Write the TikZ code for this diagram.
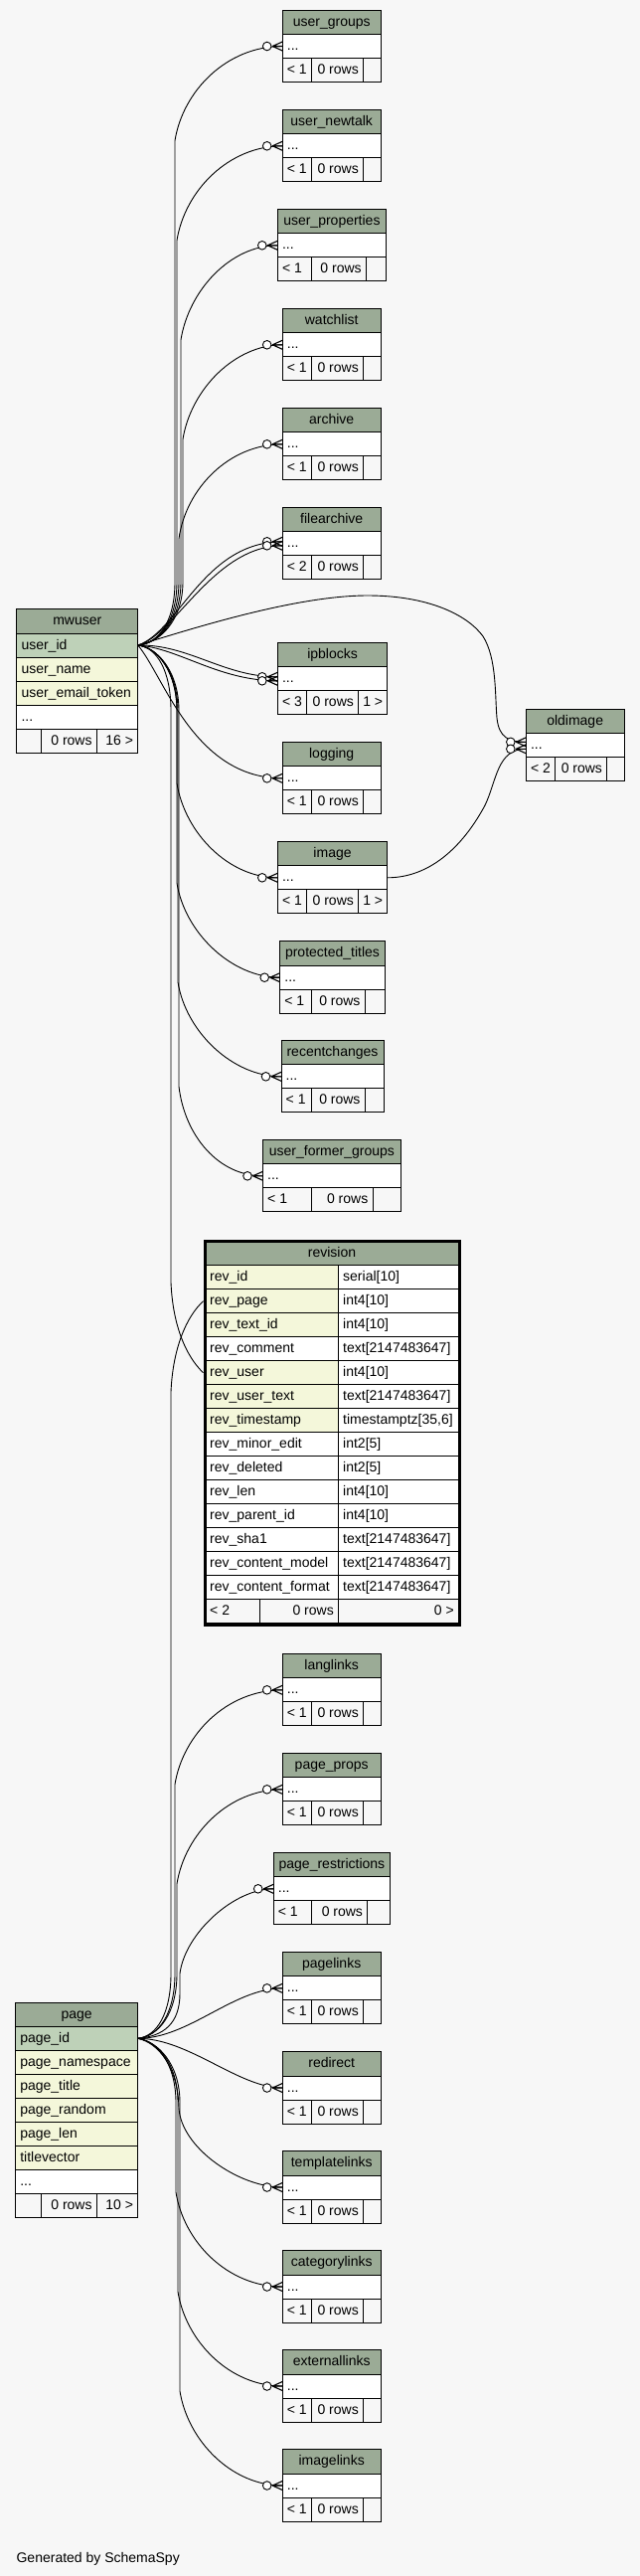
\documentclass[tikz,border=0pt]{standalone}
\usepackage{fontspec}
\setmainfont{Liberation Sans}
\usetikzlibrary{decorations.markings}
\definecolor{bgc}{HTML}{F7F7F7}
\definecolor{hdrc}{HTML}{9BAB96}
\definecolor{pkc}{HTML}{BED1B8}
\definecolor{idxc}{HTML}{F4F7DA}
\newcommand{\cbox}[6]{%
  \pgfmathsetmacro{\tbW}{(#4)-(#2)}%
  \pgfmathsetmacro{\tbH}{(#5)-(#3)}%
  \node[cellbase,#6,minimum width=\tbW pt,minimum height=\tbH pt,anchor=north west] (#1) at (#2,#3) {};%
}
\newcommand{\ltext}[2]{\node[txt,anchor=west] (#1-t) at ([xshift=4.5pt]#1.west) {#2};}
\newcommand{\rtext}[2]{\if\relax\detokenize{#2}\relax\else\node[txt,anchor=east] (#1-t) at ([xshift=-4.5pt]#1.east) {#2};\fi}
\newcommand{\ctext}[2]{\node[txt] (#1-t) at (#1.center) {#2};}
\newcommand{\smalltab}[9]{%
  \cbox{#1-h}{#2}{#4}{#3}{#4+24.5}{hdr}\ctext{#1-h}{#7}
  \cbox{#1-r}{#2}{#4+24.5}{#3}{#4+48.5}{wht}\ltext{#1-r}{...}
  \cbox{#1-a}{#2}{#4+48.5}{#5}{#4+72.5}{ftc}\ltext{#1-a}{#8}
  \cbox{#1-b}{#5}{#4+48.5}{#6}{#4+72.5}{ftc}\rtext{#1-b}{0 rows}
  \cbox{#1-c}{#6}{#4+48.5}{#3}{#4+72.5}{ftc}\rtext{#1-c}{#9}
}
\newcommand{\rvrow}[5]{%
  \cbox{rv-#1}{206.5}{#2}{340.5}{#2+24}{#3}\ltext{rv-#1}{#4}
  \cbox{rv-#1-ty}{340.5}{#2}{461.5}{#2+24}{wht}\ltext{rv-#1-ty}{#5}
}
\begin{document}
\begin{tikzpicture}[x=1pt,y=-1pt,
  cellbase/.style={draw=black,line width=0.9pt,inner sep=0pt,outer sep=0pt},
  hdr/.style={fill=hdrc}, pk/.style={fill=pkc}, idx/.style={fill=idxc},
  wht/.style={fill=white}, ftc/.style={fill=bgc},
  txt/.style={font=\fontsize{14}{16}\selectfont, inner sep=0pt, text height=11pt, text depth=3pt},
  fk/.style={line width=0.9pt, postaction={decorate, decoration={markings,
     mark=at position 1 with {\draw[line width=1.1pt] (-10pt,0pt)--(0pt,4.5pt) (-10pt,0pt)--(0pt,-4.5pt) (-10pt,0pt)--(0pt,0pt);
       \draw[line width=0.9pt,fill=white] (-15.5pt,0pt) circle (4.3pt);}}}}
]
\fill[bgc] (0,0) rectangle (644,2591);
\useasboundingbox (0,0) rectangle (644,2591);

% small tables
\smalltab{ug}{284.2}{383.2}{10}{313.4}{365.5}{user\_groups}{< 1}{}
\smalltab{un}{284.2}{383.2}{110.3}{313.4}{365.5}{user\_newtalk}{< 1}{}
\smalltab{up}{279.3}{388.5}{210.3}{313.8}{368.4}{user\_properties}{< 1}{}
\smalltab{wl}{284.2}{383.2}{310.3}{313.4}{365.5}{watchlist}{< 1}{}
\smalltab{ar}{284.2}{383.2}{410.3}{313.4}{365.5}{archive}{< 1}{}
\smalltab{fa}{284.2}{383.2}{510.3}{313.4}{365.5}{filearchive}{< 2}{}
\smalltab{ib}{279.3}{389.8}{646.3}{308.4}{360.6}{ipblocks}{< 3}{1 >}
\smalltab{oi}{529.3}{628}{713.3}{558.5}{610.7}{oldimage}{< 2}{}
\smalltab{lg}{284.2}{383.2}{746.3}{313.4}{365.5}{logging}{< 1}{}
\smalltab{im}{279.3}{389.8}{846.3}{308.4}{360.6}{image}{< 1}{1 >}
\smalltab{pt}{281.7}{387.3}{946.7}{313.8}{367.2}{protected\_titles}{< 1}{}
\smalltab{rc}{283}{386}{1046.3}{313.8}{367.2}{recentchanges}{< 1}{}
\smalltab{uf}{264.5}{403.3}{1146.3}{313.8}{375}{user\_former\_groups}{< 1}{}
\smalltab{ll}{284.2}{383.2}{1663.3}{313.4}{365.5}{langlinks}{< 1}{}
\smalltab{pp}{284.2}{383.2}{1763.3}{313.4}{365.5}{page\_props}{< 1}{}
\smalltab{pr}{275.2}{392.7}{1863.3}{313.8}{369.7}{page\_restrictions}{< 1}{}
\smalltab{pl}{284.2}{383.2}{1963.3}{313.4}{365.5}{pagelinks}{< 1}{}
\smalltab{rd}{284.2}{383.2}{2063.5}{313.4}{365.5}{redirect}{< 1}{}
\smalltab{tl}{284.2}{383.2}{2163.5}{313.4}{365.5}{templatelinks}{< 1}{}
\smalltab{cl}{284.2}{383.2}{2263.5}{313.4}{365.5}{categorylinks}{< 1}{}
\smalltab{el}{284.2}{383.2}{2363.5}{313.4}{365.5}{externallinks}{< 1}{}
\smalltab{il}{284.2}{383.2}{2463.5}{313.4}{365.5}{imagelinks}{< 1}{}

% mwuser
\cbox{mw-h}{16.8}{612.7}{138.8}{637}{hdr}\ctext{mw-h}{mwuser}
\cbox{mw-id}{16.8}{637}{138.8}{661}{pk}\ltext{mw-id}{user\_id}
\cbox{mw-name}{16.8}{661}{138.8}{685}{idx}\ltext{mw-name}{user\_name}
\cbox{mw-tok}{16.8}{685}{138.8}{709}{idx}\ltext{mw-tok}{user\_email\_token}
\cbox{mw-more}{16.8}{709}{138.8}{733}{wht}\ltext{mw-more}{...}
\cbox{mw-fa}{16.8}{733}{41.1}{757}{ftc}
\cbox{mw-fb}{41.1}{733}{97.3}{757}{ftc}\rtext{mw-fb}{0 rows}
\cbox{mw-fc}{97.3}{733}{138.8}{757}{ftc}\rtext{mw-fc}{16 >}

% page
\cbox{pg-h}{15.6}{2014.3}{138.8}{2038.3}{hdr}\ctext{pg-h}{page}
\cbox{pg-id}{15.6}{2038.3}{138.8}{2062.3}{pk}\ltext{pg-id}{page\_id}
\cbox{pg-ns}{15.6}{2062.3}{138.8}{2086.3}{idx}\ltext{pg-ns}{page\_namespace}
\cbox{pg-ti}{15.6}{2086.3}{138.8}{2110.3}{idx}\ltext{pg-ti}{page\_title}
\cbox{pg-ra}{15.6}{2110.3}{138.8}{2134.3}{idx}\ltext{pg-ra}{page\_random}
\cbox{pg-le}{15.6}{2134.3}{138.8}{2158.3}{idx}\ltext{pg-le}{page\_len}
\cbox{pg-tv}{15.6}{2158.3}{138.8}{2182.3}{idx}\ltext{pg-tv}{titlevector}
\cbox{pg-more}{15.6}{2182.3}{138.8}{2206.3}{wht}\ltext{pg-more}{...}
\cbox{pg-fa}{15.6}{2206.3}{41.1}{2230.3}{ftc}
\cbox{pg-fb}{41.1}{2206.3}{97.3}{2230.3}{ftc}\rtext{pg-fb}{0 rows}
\cbox{pg-fc}{97.3}{2206.3}{138.8}{2230.3}{ftc}\rtext{pg-fc}{10 >}

% revision
\cbox{rv-h}{206.5}{1248.5}{461.5}{1272.7}{hdr}\ctext{rv-h}{revision}
\rvrow{id}{1272.7}{idx}{rev\_id}{serial[10]}
\rvrow{page}{1296.7}{idx}{rev\_page}{int4[10]}
\rvrow{textid}{1320.7}{idx}{rev\_text\_id}{int4[10]}
\rvrow{comment}{1344.7}{wht}{rev\_comment}{text[2147483647]}
\rvrow{user}{1368.7}{idx}{rev\_user}{int4[10]}
\rvrow{usertext}{1392.7}{idx}{rev\_user\_text}{text[2147483647]}
\rvrow{ts}{1416.7}{idx}{rev\_timestamp}{timestamptz[35,6]}
\rvrow{minor}{1440.7}{wht}{rev\_minor\_edit}{int2[5]}
\rvrow{deleted}{1464.7}{wht}{rev\_deleted}{int2[5]}
\rvrow{len}{1488.7}{wht}{rev\_len}{int4[10]}
\rvrow{parent}{1512.7}{wht}{rev\_parent\_id}{int4[10]}
\rvrow{sha}{1536.7}{wht}{rev\_sha1}{text[2147483647]}
\rvrow{cmodel}{1560.7}{wht}{rev\_content\_model}{text[2147483647]}
\rvrow{cformat}{1584.7}{wht}{rev\_content\_format}{text[2147483647]}
\cbox{rv-fa}{206.5}{1608.7}{261.2}{1632.7}{ftc}\ltext{rv-fa}{< 2}
\cbox{rv-fb}{261.2}{1608.7}{340.5}{1632.7}{ftc}\rtext{rv-fb}{0 rows}
\cbox{rv-fc}{340.5}{1608.7}{461.5}{1632.7}{ftc}\rtext{rv-fc}{0 >}
\node[draw,line width=3pt,inner sep=0pt,outer sep=0pt,minimum width=256pt,minimum height=386pt,anchor=north west] (revision) at (206,1248.2) {};

\node[txt,anchor=west] (gen) at (16.4,2573) {Generated by SchemaSpy};

% ---- connectors from mwuser.user_id
\draw[fk] (mw-id.east) .. controls (160,647) and (176,625) .. (176,585) -- (176,141.5) .. controls (184,91.5) and (228,46.5) .. (ug-r.west);
\draw[fk] (mw-id.east) .. controls (160,647) and (178,625) .. (178,585) -- (178,241.8) .. controls (186,191.8) and (230,146.8) .. (un-r.west);
\draw[fk] (mw-id.east) .. controls (160,647) and (182,625) .. (182,585) -- (182,341.8) .. controls (190,291.8) and (232,246.8) .. (up-r.west);
\draw[fk] (mw-id.east) .. controls (160,647) and (184,625) .. (184,585) -- (184,441.8) .. controls (192,391.8) and (236,346.8) .. (wl-r.west);
\draw[fk] (mw-id.east) .. controls (160,647) and (180,625) .. (180,585) -- (180,541.8) .. controls (187,491.8) and (230,446.8) .. (ar-r.west);
\draw[fk] (mw-id.east) .. controls (180,635) and (205,544.8) .. ([yshift=2pt]fa-r.west);
\draw[fk] (mw-id.east) .. controls (175,640) and (215,548.8) .. ([yshift=-2pt]fa-r.west);
\draw[fk] (mw-id.east) .. controls (190,648) and (225,680.8) .. ([yshift=2pt]ib-r.west);
\draw[fk] (mw-id.east) .. controls (180,652) and (220,684.8) .. ([yshift=-2pt]ib-r.west);
\draw[fk] (mw-id.east) .. controls (200,630) and (300,599) .. (370,599) .. controls (430,599) and (470,618) .. (486,640) .. controls (500,662) and (498,700) .. (500,722) .. controls (502,742) and (512,746.3) .. ([yshift=3.5pt]oi-r.west);
\draw[fk] (mw-id.east) .. controls (165,680) and (195,782.8) .. (lg-r.west);
\draw[fk] (mw-id.east) .. controls (158,651) and (178,675) .. (178,715) -- (178,787.8) .. controls (186,837.8) and (230,882.8) .. (im-r.west);
\draw[fk] (mw-id.east) .. controls (158,651) and (178,675) .. (178,715) -- (178,888.2) .. controls (186,938.2) and (233,983.2) .. (pt-r.west);
\draw[fk] (mw-id.east) .. controls (158,651) and (179,675) .. (179,715) -- (179,987.8) .. controls (187,1037.8) and (234,1082.8) .. (rc-r.west);
\draw[fk] (mw-id.east) .. controls (158,651) and (180,675) .. (180,715) -- (180,1092.8) .. controls (186,1142.8) and (220,1182.8) .. (uf-r.west);
\draw[fk] (mw-id.east) .. controls (158,651) and (172,675) .. (172,715) -- (172,1290) .. controls (174,1335) and (188,1365) .. ([xshift=-2pt]rv-user.west);

% ---- image -> oldimage
\draw[fk] (im-r.east) .. controls (440,882.8) and (472,840) .. (488,810) .. controls (500,785) and (500,753.3) .. ([yshift=-3.5pt]oi-r.west);

% ---- connectors from page.page_id
\draw[fk] (pg-id.east) .. controls (158,2048) and (172,2025) .. (172,1985) -- (172,1400) .. controls (174,1355) and (188,1324) .. ([xshift=-2pt]rv-page.west);
\draw[fk] (pg-id.east) .. controls (160,2048) and (176,2025) .. (176,1985) -- (176,1794.8) .. controls (184,1744.8) and (228,1699.8) .. (ll-r.west);
\draw[fk] (pg-id.east) .. controls (160,2048) and (178,2025) .. (178,1985) -- (178,1894.8) .. controls (186,1844.8) and (230,1799.8) .. (pp-r.west);
\draw[fk] (pg-id.east) .. controls (165,2048) and (181,2035) .. (181,2005) -- (181,1985) .. controls (186,1945) and (235,1899.8) .. (pr-r.west);
\draw[fk] (pg-id.east) .. controls (190,2050.3) and (235,1999.8) .. (pl-r.west);
\draw[fk] (pg-id.east) .. controls (190,2050.3) and (240,2100) .. (rd-r.west);
\draw[fk] (pg-id.east) .. controls (160,2055) and (179,2080) .. (180,2120) .. controls (182,2160) and (240,2200) .. (tl-r.west);
\draw[fk] (pg-id.east) .. controls (158,2053) and (177,2075) .. (177,2115) -- (177,2205) .. controls (185,2255) and (229,2300) .. (cl-r.west);
\draw[fk] (pg-id.east) .. controls (158,2053) and (179,2075) .. (179,2115) -- (179,2305) .. controls (187,2355) and (231,2400) .. (el-r.west);
\draw[fk] (pg-id.east) .. controls (158,2053) and (181,2075) .. (181,2115) -- (181,2405) .. controls (189,2455) and (233,2500) .. (il-r.west);
\end{tikzpicture}
\end{document}
